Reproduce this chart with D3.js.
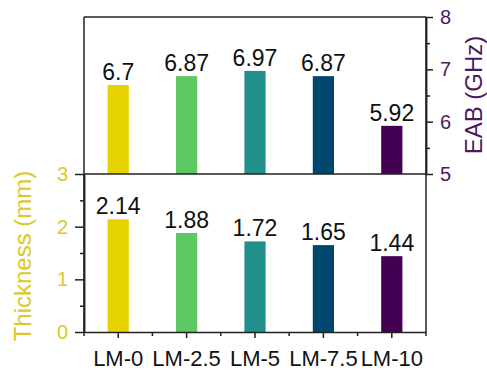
<!DOCTYPE html>
<html>
<head>
<meta charset="utf-8">
<script src="https://cdn.jsdelivr.net/npm/d3@7"></script>
<style>
  html, body { margin: 0; padding: 0; background: #fff; }
  svg { display: block; font-family: "Liberation Sans", Arial, sans-serif; }
</style>
</head>
<body>
<svg id="chart" width="487" height="374"></svg>
<script>
// Samples and their measured values
const samples = ["LM-0", "LM-2.5", "LM-5", "LM-7.5", "LM-10"];
const eabValues = [6.7, 6.87, 6.97, 6.87, 5.92];        // GHz, upper panel
const thicknessValues = [2.14, 1.88, 1.72, 1.65, 1.44]; // mm, lower panel
const barColors = ["#e6d200", "#5ec962", "#21908c", "#00476f", "#440154"];
const thicknessTicks = [0, 1, 2, 3];
const thicknessMinor = [0.5, 1.5, 2.5];
const eabTicks = [5, 6, 7, 8];
const eabMinor = [5.5, 6.5, 7.5];

const svg = d3.select("#chart");
const plotLeft = 84, plotRight = 426, plotTop = 17, plotMid = 174, plotBottom = 332;
const axisColor = "#222";
const yellowText = "#dcc82a";
const purpleText = "#4b1a5e";

const x = d3.scaleBand().domain(samples).range([plotLeft, plotRight]).padding(0);
const yEab = d3.scaleLinear().domain([5, 8]).range([plotMid, plotTop]);
const yThk = d3.scaleLinear().domain([0, 3]).range([plotBottom, plotMid]);
const barW = x.bandwidth() * 0.31;

// Bars
svg.append("g").selectAll("rect")
  .data(samples.map((s, i) => ({ s, v: eabValues[i], c: barColors[i] })))
  .join("rect")
  .attr("x", d => x(d.s) + (x.bandwidth() - barW) / 2)
  .attr("width", barW)
  .attr("y", d => yEab(d.v))
  .attr("height", d => yEab(5) - yEab(d.v))
  .attr("fill", d => d.c);

svg.append("g").selectAll("rect")
  .data(samples.map((s, i) => ({ s, v: thicknessValues[i], c: barColors[i] })))
  .join("rect")
  .attr("x", d => x(d.s) + (x.bandwidth() - barW) / 2)
  .attr("width", barW)
  .attr("y", d => yThk(d.v))
  .attr("height", d => yThk(0) - yThk(d.v))
  .attr("fill", d => d.c);

// Value labels
const labelFont = 23;
svg.append("g").selectAll("text")
  .data(samples.map((s, i) => ({ s, v: eabValues[i] })))
  .join("text")
  .attr("x", d => x(d.s) + x.bandwidth() / 2)
  .attr("y", d => yEab(d.v) - 5)
  .attr("text-anchor", "middle")
  .attr("font-size", labelFont)
  .attr("fill", "#111")
  .text(d => d.v);

svg.append("g").selectAll("text")
  .data(samples.map((s, i) => ({ s, v: thicknessValues[i] })))
  .join("text")
  .attr("x", d => x(d.s) + x.bandwidth() / 2)
  .attr("y", d => yThk(d.v) - 5)
  .attr("text-anchor", "middle")
  .attr("font-size", labelFont)
  .attr("fill", "#111")
  .text(d => d.v);

function styleAxis(g, textColor, fontSize) {
  g.selectAll("path").attr("stroke", axisColor).attr("stroke-width", 1.5);
  g.selectAll("line").attr("stroke", axisColor).attr("stroke-width", 1.5);
  g.selectAll("text").attr("fill", textColor).attr("font-size", fontSize)
    .attr("font-family", "Liberation Sans, Arial, sans-serif");
}

// Frame: top border and panel divider
svg.append("line").attr("x1", plotLeft).attr("x2", plotRight).attr("y1", plotTop).attr("y2", plotTop)
  .attr("stroke", axisColor).attr("stroke-width", 1.5);
svg.append("line").attr("x1", plotLeft).attr("x2", plotRight).attr("y1", plotMid).attr("y2", plotMid)
  .attr("stroke", axisColor).attr("stroke-width", 1.5);
// Full-height vertical axis lines
svg.append("line").attr("x1", plotLeft).attr("x2", plotLeft).attr("y1", plotTop).attr("y2", plotBottom)
  .attr("stroke", axisColor).attr("stroke-width", 1.5);
svg.append("line").attr("x1", plotRight).attr("x2", plotRight).attr("y1", plotTop).attr("y2", plotBottom)
  .attr("stroke", axisColor).attr("stroke-width", 1.5);

const intFmt = d3.format("d");

// Left thickness axis
const gl = svg.append("g").attr("transform", `translate(${plotLeft},0)`)
  .call(d3.axisLeft(yThk).tickValues(thicknessTicks).tickFormat(intFmt)
    .tickSize(9).tickPadding(7).tickSizeOuter(0));
styleAxis(gl, yellowText, 20);
const glm = svg.append("g").attr("transform", `translate(${plotLeft},0)`)
  .call(d3.axisLeft(yThk).tickValues(thicknessMinor).tickSize(4).tickFormat("").tickSizeOuter(0));
styleAxis(glm, yellowText, 20);

// Right EAB axis
const gr = svg.append("g").attr("transform", `translate(${plotRight},0)`)
  .call(d3.axisRight(yEab).tickValues(eabTicks).tickFormat(intFmt)
    .tickSize(7).tickPadding(7).tickSizeOuter(0));
styleAxis(gr, purpleText, 20);
const grm = svg.append("g").attr("transform", `translate(${plotRight},0)`)
  .call(d3.axisRight(yEab).tickValues(eabMinor).tickSize(4).tickFormat("").tickSizeOuter(0));
styleAxis(grm, purpleText, 20);

// Bottom category axis with minor ticks at band edges
const gb = svg.append("g").attr("transform", `translate(0,${plotBottom})`)
  .call(d3.axisBottom(x).tickSize(6).tickPadding(12).tickSizeOuter(0));
styleAxis(gb, "#111", 22);
const edges = samples.map(s => x(s)).concat([plotRight]);
svg.append("g").selectAll("line").data(edges).join("line")
  .attr("x1", d => d).attr("x2", d => d)
  .attr("y1", plotBottom).attr("y2", plotBottom + 4)
  .attr("stroke", axisColor).attr("stroke-width", 1.5);

// Axis titles
svg.append("text")
  .attr("transform", `translate(23,256) rotate(-90)`)
  .attr("text-anchor", "middle").attr("dy", "0.35em")
  .attr("font-size", 24).attr("fill", yellowText)
  .text("Thickness (mm)");
svg.append("text")
  .attr("transform", `translate(474,95) rotate(-90)`)
  .attr("text-anchor", "middle").attr("dy", "0.35em")
  .attr("font-size", 24).attr("fill", purpleText)
  .text("EAB (GHz)");
</script>
</body>
</html>
